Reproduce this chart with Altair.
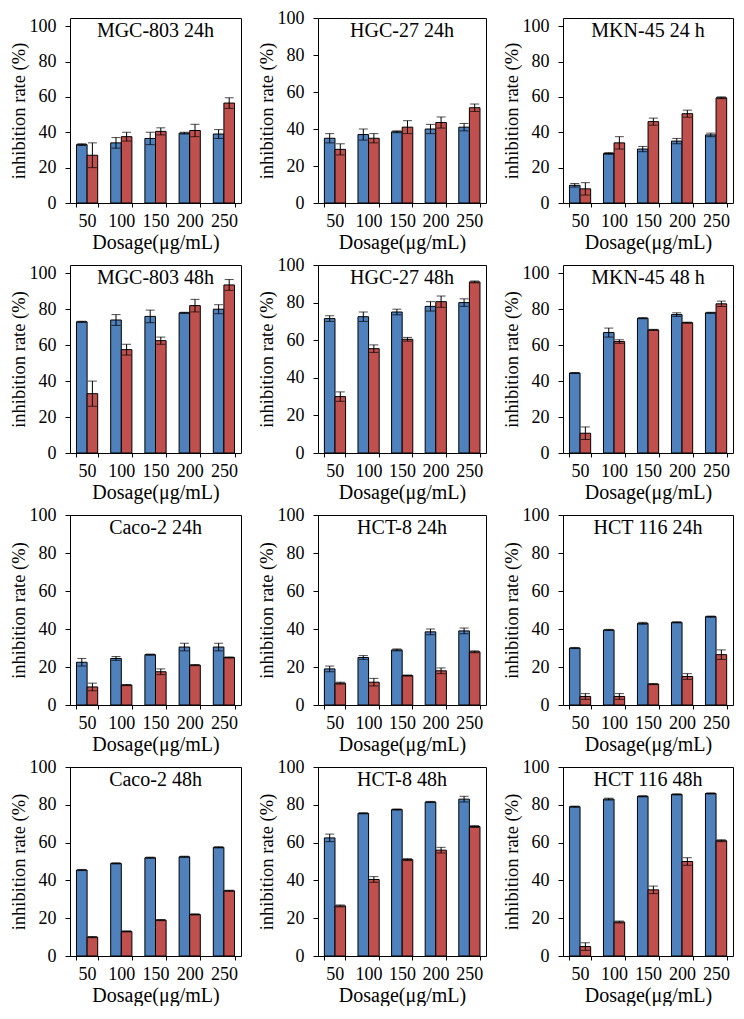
import altair as alt
import pandas as pd

doses = ["50", "100", "150", "200", "250"]

panel_titles = [
    "MGC-803 24h", "HGC-27 24h", "MKN-45 24 h",
    "MGC-803 48h", "HGC-27 48h", "MKN-45 48 h",
    "Caco-2 24h", "HCT-8 24h", "HCT 116 24h",
    "Caco-2  48h", "HCT-8 48h", "HCT 116 48h",
]

blue_values = [
    [33, 34, 36.5, 39.5, 39],
    [35, 37, 38.5, 40, 41],
    [10, 28, 30.5, 35, 38.5],
    [73, 74, 76, 78, 80],
    [71.5, 72.5, 75, 78, 80],
    [44.5, 67, 75, 77, 78],
    [22.5, 24.5, 26.5, 30.5, 30.5],
    [19, 25, 29, 38.5, 39],
    [30, 39.5, 43, 43.5, 46.5],
    [45.5, 49, 52, 52.5, 57.5],
    [62.5, 75.5, 77.5, 81.5, 83],
    [79, 83, 84.5, 85.5, 86],
]
blue_errors = [
    [0.5, 3, 3.5, 0.5, 2.5],
    [2.5, 3, 0.5, 2.5, 2],
    [1, 0.5, 1.5, 1.5, 1],
    [0.3, 3, 3.5, 0.3, 2.5],
    [1.5, 2.5, 1.5, 2.5, 2],
    [0.3, 2.5, 0.3, 1, 0.3],
    [2, 1, 0.3, 2, 2],
    [1.5, 1, 0.5, 1.5, 1.5],
    [0.3, 0.3, 0.5, 0.3, 0.3],
    [0.3, 0.3, 0.3, 0.3, 0.3],
    [2, 0.3, 0.3, 0.3, 1.5],
    [0.3, 0.5, 0.3, 0.3, 0.3],
]
red_values = [
    [27, 37.5, 40.5, 41, 56.5],
    [29, 35, 41, 43.5, 51.5],
    [8, 34, 46, 50.5, 59.5],
    [33, 57.5, 62.5, 82, 93.5],
    [30, 55.5, 60.5, 80.5, 91],
    [11, 62, 68.5, 72.5, 83],
    [9.5, 10.5, 17.5, 21, 25],
    [11.5, 12, 15.5, 18, 28],
    [4.5, 4.5, 11, 15, 26.5],
    [10, 13, 19, 22, 34.5],
    [26.5, 40.5, 51, 56, 68.5],
    [5, 18, 35, 50, 61],
]
red_errors = [
    [7, 2.5, 2, 3.5, 3],
    [3, 2.5, 3.5, 3, 2],
    [3.5, 3.5, 2, 2, 0.5],
    [7, 3, 2, 3.5, 3],
    [2.5, 2, 1, 3, 0.5],
    [3.5, 1, 0.3, 0.3, 1.5],
    [2, 0.3, 1.5, 0.3, 0.3],
    [0.5, 2, 0.3, 1.5, 0.5],
    [1.5, 1.5, 0.3, 1.5, 2.5],
    [0.3, 0.3, 0.3, 0.3, 0.3],
    [0.5, 1.5, 0.5, 1.5, 0.5],
    [2, 0.5, 2, 2, 0.5],
]

BLUE = "#4F81BD"
RED = "#C0504D"
FONT = "Liberation Serif"

col_widths = [171, 168, 170]
row_heights = [185, 188, 190, 189]


def panel(i, w, h, ymax):
    rows = []
    for j, d in enumerate(doses):
        rows.append(dict(dose=d, series="A", value=blue_values[i][j], err=blue_errors[i][j]))
        rows.append(dict(dose=d, series="B", value=red_values[i][j], err=red_errors[i][j]))
    df = pd.DataFrame(rows)
    df["lo"] = df["value"] - df["err"]
    df["hi"] = df["value"] + df["err"]
    base = alt.Chart(df)
    yscale = alt.Scale(domain=[0, ymax], nice=False, zero=True)
    yaxis = alt.Axis(values=[0, 20, 40, 60, 80, 100], title="inhibition rate (%)",
                     tickSize=5, labelPadding=9, titlePadding=1, titleFontSize=18.5, grid=False)
    x = alt.X(
        "dose:N", sort=doses,
        scale=alt.Scale(paddingInner=0.38, paddingOuter=0.19),
        axis=alt.Axis(title="Dosage(μg/mL)", labelAngle=0, tickBand="extent",
                      tickSize=4, labelPadding=5, titlePadding=2, titleFontSize=20),
    )
    xo = alt.XOffset("series:N", sort=["A", "B"], scale=alt.Scale(paddingInner=0, paddingOuter=0))
    bars = base.mark_bar(stroke="black", strokeWidth=1).encode(
        x=x, xOffset=xo,
        y=alt.Y("value:Q", scale=yscale, axis=yaxis),
        color=alt.Color("series:N", scale=alt.Scale(domain=["A", "B"], range=[BLUE, RED]), legend=None),
    )
    rule = base.mark_rule(color="black", strokeWidth=1).encode(
        x=x, xOffset=xo,
        y=alt.Y("lo:Q", scale=yscale, axis=yaxis), y2="hi:Q",
    )
    cap_lo = base.mark_tick(color="black", thickness=1, size=9).encode(
        x=x, xOffset=xo, y=alt.Y("lo:Q", scale=yscale, axis=yaxis))
    cap_hi = base.mark_tick(color="black", thickness=1, size=9).encode(
        x=x, xOffset=xo, y=alt.Y("hi:Q", scale=yscale, axis=yaxis))
    ttl = alt.Chart(pd.DataFrame({"t": [panel_titles[i]]})).mark_text(
        font=FONT, fontSize=20, color="black", baseline="middle", align="center"
    ).encode(text="t:N", x=alt.value(w / 2), y=alt.value(13))
    return alt.layer(bars, rule, cap_lo, cap_hi, ttl).properties(width=w, height=h)


panels = []
for r in range(4):
    for c in range(3):
        i = r * 3 + c
        ymax = 104.6 if (r < 2 and c != 1) else 100
        panels.append(panel(i, col_widths[c], row_heights[r], ymax))

chart = alt.concat(
    *panels, columns=3, spacing={"row": 62, "column": 77}, bounds="flush"
).properties(
    padding={"left": 0, "top": 0, "right": 0, "bottom": 0}
).configure_view(
    stroke="black", strokeWidth=1
).configure_axis(
    domain=False, tickColor="black", tickWidth=1,
    labelFont=FONT, labelFontSize=18, labelColor="black",
    titleFont=FONT, titleFontSize=19, titleFontWeight="normal", titleColor="black",
)

chart.save("out.html", embed_options={"renderer": "svg", "actions": False})
